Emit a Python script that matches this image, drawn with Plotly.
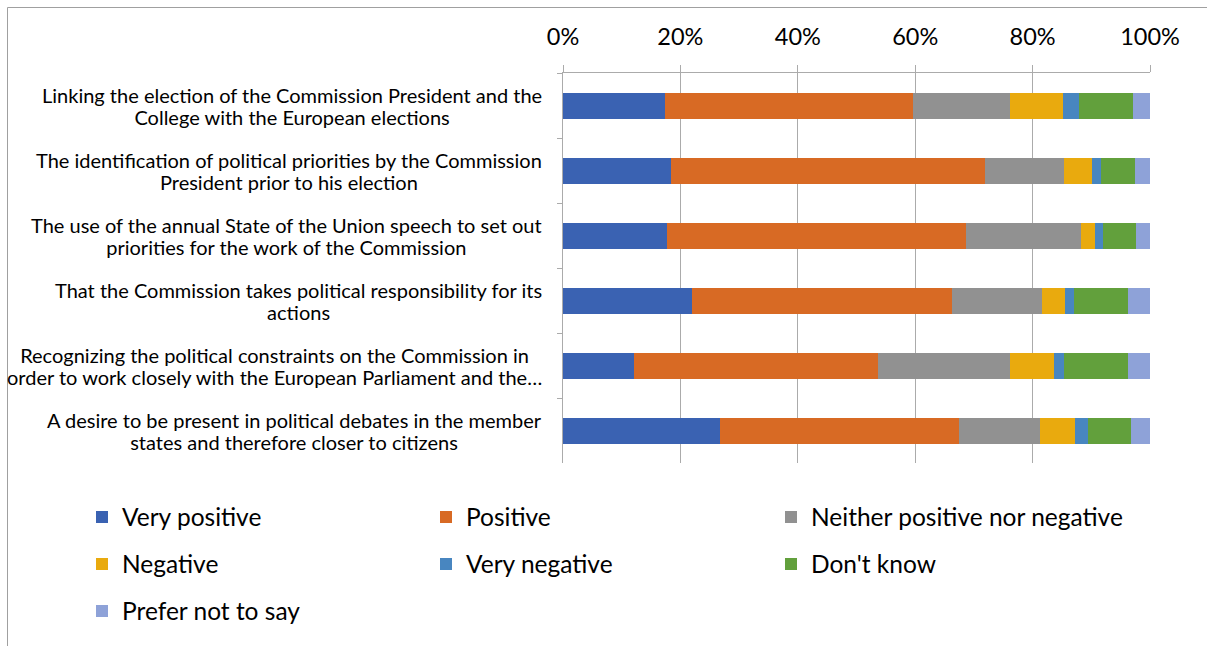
import plotly.graph_objects as go

categories = [
    "Linking the election of the Commission President and the<br>College with the European elections",
    "The identification of political priorities by the Commission<br>President prior to his election",
    "The use of the annual State of the Union speech to set out<br>priorities for the work of the Commission",
    "That the Commission takes political responsibility for its<br>actions",
    "Recognizing the political constraints on the Commission in<br>order to work closely with the European Parliament and the…",
    "A desire to be present in political debates in the member<br>states and therefore closer to citizens",
]

series_names = ["Very positive", "Positive", "Neither positive nor negative",
                "Negative", "Very negative", "Don't know", "Prefer not to say"]

very_positive = [17.4, 18.4, 17.8, 22.0, 12.1, 26.8]
positive      = [42.3, 53.5, 50.8, 44.3, 41.6, 40.6]
neither       = [16.4, 13.5, 19.6, 15.3, 22.5, 13.8]
negative      = [9.0, 4.8, 2.5, 4.0, 7.4, 6.1]
very_negative = [2.8, 1.4, 1.3, 1.4, 1.7, 2.1]
dont_know     = [9.2, 5.8, 5.6, 9.2, 10.9, 7.3]
prefer_not    = [2.9, 2.6, 2.4, 3.8, 3.8, 3.3]

series_values = [very_positive, positive, neither, negative, very_negative, dont_know, prefer_not]
colors = ["#3A62B2", "#D86A24", "#919191", "#E9AA0E", "#4886C0", "#62A03C", "#8EA2D8"]

FONT = "Lato"

# plot area in px: x 563..1150, y 73..463
W, H = 1207, 646
L, R, T, B = 563, W - 1150, 73, H - 463
pw, ph = W - L - R, H - T - B

def px_x(px):
    return (px - L) / pw

def px_y(py):
    return (H - B - py) / ph

# legend grid (3 columns) -> one legend per entry
leg_cols_px = [82, 426, 771]
leg_rows_px = [517, 564, 611]

fig = go.Figure()
totals = [sum(v[i] for v in series_values) for i in range(len(categories))]
legend_layout = {}
for k, (name, vals, col) in enumerate(zip(series_names, series_values, colors)):
    lid = "legend" if k == 0 else "legend%d" % (k + 1)
    fig.add_trace(go.Bar(
        y=categories, x=[v / t for v, t in zip(vals, totals)], name=name,
        orientation="h", marker=dict(color=col, line=dict(width=0)),
        legend=lid,
    ))
    legend_layout[lid] = dict(
        orientation="h", xanchor="left", yanchor="middle",
        x=px_x(leg_cols_px[k % 3]), y=px_y(leg_rows_px[k // 3]),
        font=dict(family=FONT, size=24.5, color="#000000"),
        bgcolor="rgba(0,0,0,0)",
    )

for cat in categories:
    lines = cat.split("<br>")
    txt = "<br>".join("<span style='font-size:20px'>%s</span>" % ln for ln in lines)
    fig.add_annotation(
        x=px_x(544), xref="paper", xanchor="right",
        y=cat, yref="y", yanchor="middle",
        text=txt, showarrow=False, align="center",
        font=dict(family=FONT, size=17, color="#000000"),
    )

grid_col = "#ABABAB"
fig.update_layout(
    width=W, height=H,
    margin=dict(l=L, r=R, t=T, b=B, autoexpand=False),
    barmode="stack", bargap=0.6,
    plot_bgcolor="white", paper_bgcolor="white",
    font=dict(family=FONT, color="#000000"),
    xaxis=dict(range=[0, 1], side="top", tickformat=".0%", dtick=0.2, tick0=0,
               showgrid=True, gridcolor=grid_col, gridwidth=1,
               showline=True, linecolor=grid_col, linewidth=1,
               ticks="outside", ticklen=7, tickcolor=grid_col,
               ticklabelstandoff=11,
               tickfont=dict(family=FONT, size=23.5, color="#000000"),
               zeroline=False, fixedrange=True),
    yaxis=dict(autorange="reversed", showticklabels=False, showgrid=False,
               showline=True, linecolor=grid_col, linewidth=1,
               ticks="outside", ticklen=5, tickcolor=grid_col, tickson="boundaries",
               zeroline=False, fixedrange=True),
    showlegend=True,
    **legend_layout,
)

# chart frame
frame_col = "#A0A0A0"
fig.add_shape(type="line", xref="paper", yref="paper",
              x0=px_x(7.5), x1=px_x(7.5), y0=px_y(7.5), y1=px_y(660), line=dict(color=frame_col, width=1))
fig.add_shape(type="line", xref="paper", yref="paper",
              x0=px_x(7.5), x1=px_x(1220), y0=px_y(7.5), y1=px_y(7.5), line=dict(color=frame_col, width=1))

fig.write_html("out.html", config={"displayModeBar": False},
               post_script="document.body.style.margin='0px';")
